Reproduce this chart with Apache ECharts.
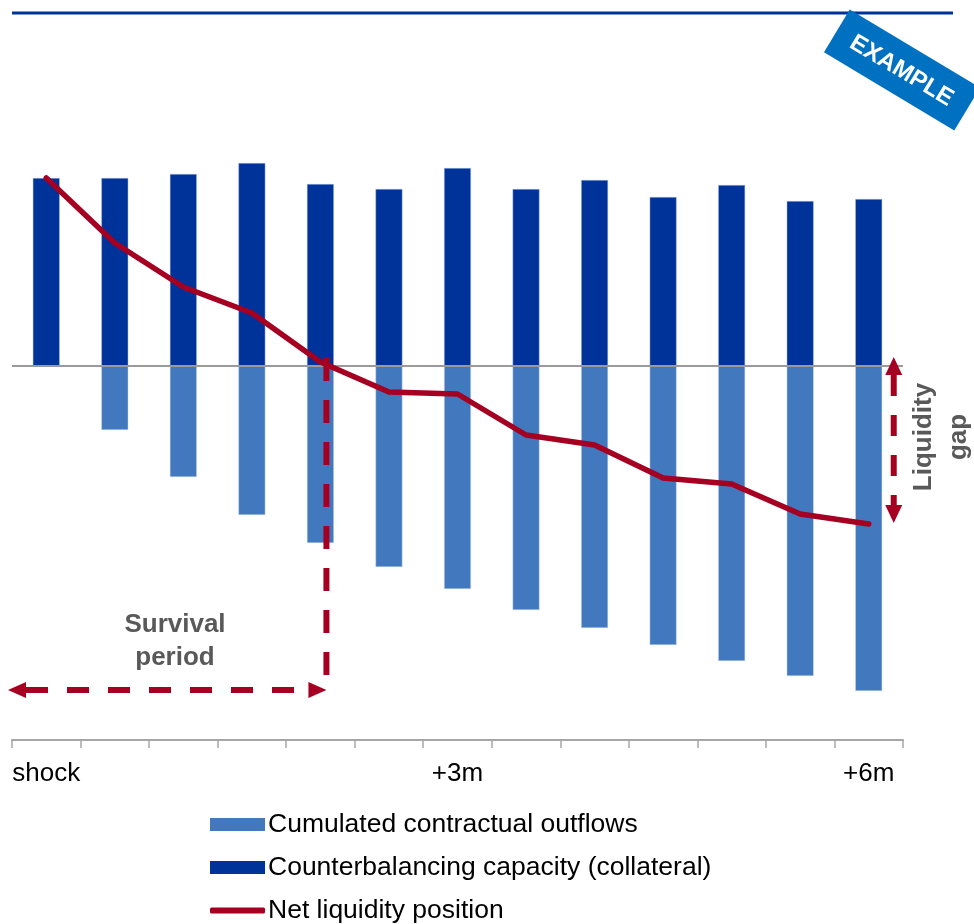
<!DOCTYPE html>
<html>
<head>
<meta charset="utf-8">
<script src="https://cdn.jsdelivr.net/npm/echarts@6/dist/echarts.min.js"></script>
<style>
html,body{margin:0;padding:0;background:#fff;}
#chart{width:974px;height:924px;}
</style>
</head>
<body>
<div id="chart"></div>
<script>
// Period categories (every half month from the shock to +6m)
const categories = ['shock','+0.5m','+1m','+1.5m','+2m','+2.5m','+3m','+3.5m','+4m','+4.5m','+5m','+5.5m','+6m'];
// Counterbalancing capacity (collateral), positive
const capacity = [188, 188, 192, 203, 182, 177, 198, 177, 186, 169, 181, 165, 167];
// Cumulated contractual outflows, negative
const outflows = [null, -64, -111, -149, -177, -201, -223, -244, -262, -279, -295, -310, -325];
// Net liquidity position
const netPosition = [188, 123, 79, 53, 4, -26, -28, -69, -79, -112, -118, -148, -158];

const FONT = 'Liberation Sans, Arial, sans-serif';
const RED = '#A50021';
const DARK = '#003399';
const LIGHT = '#4178BE';

const chart = echarts.init(document.getElementById('chart'));

function legendBox(name, top, icon, h) {
  return {
    orient: 'vertical',
    left: 210,
    top: top,
    padding: 0,
    itemWidth: 55,
    itemHeight: h,
    selectedMode: false,
    icon: icon,
    itemStyle: { borderWidth: 0 },
    textStyle: { fontSize: 26.5, color: '#000', fontFamily: FONT, lineHeight: 26, padding: [0, 0, 0, -2] },
    data: [name]
  };
}

chart.setOption({
  animation: false,
  backgroundColor: '#fff',
  textStyle: { fontFamily: FONT },
  grid: { left: 12, right: 71, top: 150, bottom: 184, containLabel: false },
  legend: [
    legendBox('Cumulated contractual outflows', 811, 'rect', 13),
    legendBox('Counterbalancing capacity (collateral)', 854, 'rect', 13),
    legendBox('Net liquidity position', 897, 'roundRect', 6)
  ],
  xAxis: {
    type: 'category',
    data: categories,
    boundaryGap: true,
    position: 'bottom',
    axisLine: { onZero: false, lineStyle: { color: '#A6A6A6', width: 2 } },
    axisTick: { show: true, interval: 0, alignWithLabel: false, length: 8, lineStyle: { color: '#A6A6A6', width: 1.5 } },
    axisLabel: { interval: 5, margin: 21, fontSize: 26, color: '#000', fontFamily: FONT },
    splitLine: { show: false }
  },
  yAxis: {
    type: 'value',
    min: -374,
    max: 216,
    show: false,
    splitLine: { show: false }
  },
  series: [
    {
      name: 'Cumulated contractual outflows',
      type: 'bar',
      data: outflows,
      barWidth: 27,
      barGap: '-100%',
      itemStyle: { color: LIGHT, borderColor: 'rgba(200,215,240,0.8)', borderWidth: 0.6 },
      z: 2
    },
    {
      name: 'Counterbalancing capacity (collateral)',
      type: 'bar',
      data: capacity,
      barWidth: 27,
      barGap: '-100%',
      itemStyle: { color: DARK, borderColor: 'rgba(170,190,230,0.8)', borderWidth: 0.6 },
      z: 2,
      markLine: {
        silent: true,
        symbol: ['none', 'none'],
        label: { show: false },
        lineStyle: { color: '#9A9A9A', type: 'solid', width: 2 },
        data: [{ yAxis: 0 }],
        z: 3
      }
    },
    {
      name: 'Net liquidity position',
      type: 'line',
      data: netPosition,
      symbol: 'none',
      lineStyle: { color: RED, width: 5.5, cap: 'round', join: 'round' },
      itemStyle: { color: RED },
      z: 5
    }
  ]
});

function arrowHead(tipX, tipY, dx, dy, len, halfW) {
  const bx = tipX - dx * len, by = tipY - dy * len;
  const px = -dy, py = dx;
  return {
    type: 'polygon',
    shape: { points: [[tipX, tipY], [bx + px * halfW, by + py * halfW], [bx - px * halfW, by - py * halfW]] },
    style: { fill: RED },
    z: 100
  };
}
function dashed(x1, y1, x2, y2, dash) {
  return {
    type: 'line',
    shape: { x1: x1, y1: y1, x2: x2, y2: y2 },
    style: { stroke: RED, lineWidth: 6, lineDash: dash },
    z: 99
  };
}

const xCat4 = chart.convertToPixel({ xAxisIndex: 0 }, 4);
const xCat12 = chart.convertToPixel({ xAxisIndex: 0 }, 12);
const yZero = chart.convertToPixel({ yAxisIndex: 0 }, 0);
const yNet12 = chart.convertToPixel({ yAxisIndex: 0 }, netPosition[12]);

const survX = xCat4 + 6;
const survY = 690;
const gapX = xCat12 + 25;
const gapTop = yZero - 9;
const gapBot = yNet12 - 1;

chart.setOption({
  graphic: [
    // top rule
    { type: 'line', shape: { x1: 12, y1: 13, x2: 953, y2: 13 }, style: { stroke: DARK, lineWidth: 3 }, z: 50 },
    // EXAMPLE badge
    {
      type: 'group',
      x: 902, y: 70,
      rotation: -31 * Math.PI / 180,
      z: 60,
      children: [
        { type: 'rect', shape: { x: -76, y: -25, width: 152, height: 50 }, style: { fill: '#0070C0' }, z: 60 },
        { type: 'text', x: 0, y: 1, style: { text: 'EXAMPLE', fill: '#fff', font: 'bold 24px ' + FONT, align: 'center', verticalAlign: 'middle' }, z: 61 }
      ]
    },
    // survival period: vertical dashed line
    dashed(survX, yZero - 8, survX, 676, [23, 19]),
    // survival period: horizontal double arrow
    dashed(26, survY, survX - 18, survY, [22, 19]),
    arrowHead(8, survY, -1, 0, 18, 8),
    arrowHead(survX, survY, 1, 0, 18, 8),
    {
      type: 'text', x: 175, y: 641,
      style: { text: 'Survival\nperiod', fill: '#595959', font: 'bold 26px ' + FONT, align: 'center', verticalAlign: 'middle', lineHeight: 33 },
      z: 100
    },
    // liquidity gap double arrow
    dashed(gapX, gapTop + 18, gapX, gapBot - 18, [21, 19]),
    arrowHead(gapX, gapTop, 0, -1, 18, 8.5),
    arrowHead(gapX, gapBot, 0, 1, 18, 8.5),
    {
      type: 'text', x: 941, y: 437,
      rotation: Math.PI / 2,
      style: { text: 'Liquidity\ngap', fill: '#595959', font: 'bold 26px ' + FONT, align: 'center', verticalAlign: 'middle', lineHeight: 35 },
      z: 100
    }
  ]
});
</script>
</body>
</html>
